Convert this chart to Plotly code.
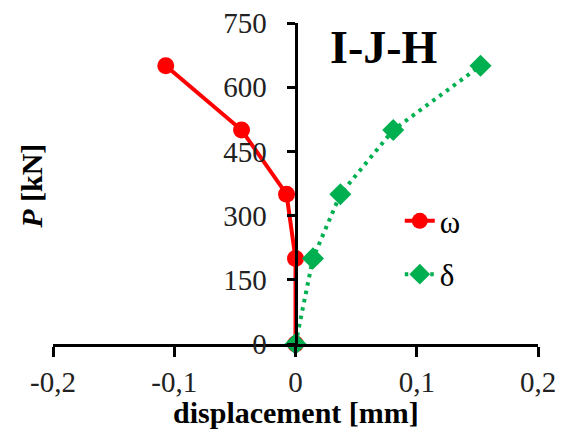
import plotly.graph_objects as go

# Data
load_kN = [0, 200, 350, 500, 650]
omega_mm = [0.0, 0.0, -0.0074, -0.0445, -0.107]
delta_mm = [0.0, 0.0144, 0.037, 0.0806, 0.1526]

x_tickvals = [-0.2, -0.1, 0, 0.1, 0.2]
x_ticktext = ["-0,2", "-0,1", "0", "0,1", "0,2"]
y_tickvals = [0, 150, 300, 450, 600, 750]
y_ticktext = ["0", "150", "300", "450", "600", "750"]

SERIF = "Liberation Serif"

fig = go.Figure()
fig.add_trace(go.Scatter(
    x=omega_mm, y=load_kN, name="ω", mode="lines+markers", legendgroup="w",
    line=dict(color="#FF0000", width=4),
    marker=dict(symbol="circle", size=17, color="#FF0000"),
    cliponaxis=False,
))
fig.add_trace(go.Scatter(
    x=delta_mm, y=load_kN, name="δ", mode="lines+markers", legendgroup="d",
    line=dict(color="#00B050", width=4, dash="3.5px,5px"),
    marker=dict(symbol="diamond", size=17, color="#00B050"),
    cliponaxis=False,
))

# page body has an 8px margin: size the figure so the plot area lands where the reference has it
fig.update_layout(
    width=555, height=430,
    margin=dict(l=45, r=25, t=15, b=94),
    plot_bgcolor="white", paper_bgcolor="white",
    font=dict(family=SERIF, size=28, color="black"),
    xaxis=dict(
        range=[-0.2, 0.2], tickvals=x_tickvals, ticktext=x_ticktext,
        showgrid=False, zeroline=False, showline=True, linecolor="black", linewidth=3,
        ticks="outside", ticklen=10, tickwidth=3, tickcolor="black",
        tickfont=dict(family=SERIF, size=29, color="#222222"),
        anchor="y", ticklabelstandoff=0, automargin=False, ticklabeloverflow="allow",
    ),
    yaxis=dict(
        range=[0, 750], tickvals=y_tickvals, ticktext=y_ticktext,
        showgrid=False, zeroline=False, showline=True, linecolor="black", linewidth=3,
        ticks="outside", ticklen=8, tickwidth=3, tickcolor="black",
        tickfont=dict(family=SERIF, size=29, color="#222222"),
        anchor="free", position=0.5, ticklabelstandoff=14, automargin=False,
        ticklabeloverflow="allow",
    ),
    legend=dict(
        x=0.715, y=0.30, xanchor="left", yanchor="middle",
        bgcolor="rgba(0,0,0,0)", font=dict(family=SERIF, size=31),
        tracegroupgap=10,
    ),
    annotations=[
        dict(text="<b>I-J-H</b>", xref="paper", yref="paper", x=0.682, y=0.925,
             xanchor="center", yanchor="middle",
             showarrow=False, font=dict(family=SERIF, size=46, color="black")),
        dict(text="<b><i>P</i> [kN]</b>", xref="paper", yref="paper", x=-0.043, y=0.49,
             xanchor="center", yanchor="middle",
             textangle=-90, showarrow=False, font=dict(family=SERIF, size=30, color="black")),
        dict(text="<b>displacement [mm]</b>", xref="paper", yref="paper", x=0.5, y=-0.212,
             xanchor="center", yanchor="middle", showarrow=False,
             font=dict(family=SERIF, size=30, color="black")),
    ],
)

fig.write_html("out.html")
